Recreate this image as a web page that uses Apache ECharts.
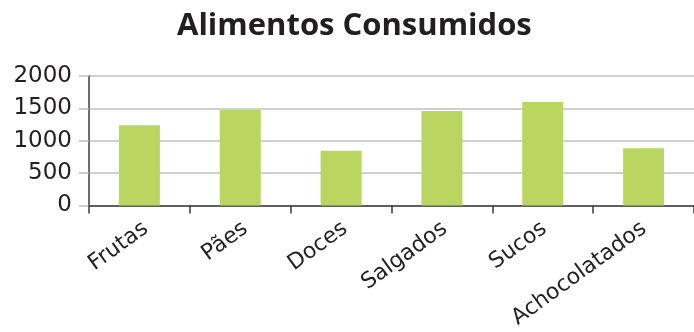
<!DOCTYPE html>
<html>
<head>
<meta charset="utf-8">
<script src="https://cdn.jsdelivr.net/npm/echarts@6/dist/echarts.min.js"></script>
<style>
  html, body { margin: 0; padding: 0; background: #fff; }
  #chart { width: 694px; height: 332px; }
</style>
</head>
<body>
<div id="chart"></div>
<script>
// Consumption per food group
const titleText = 'Alimentos Consumidos';
const categories = ['Frutas', 'Pães', 'Doces', 'Salgados', 'Sucos', 'Achocolatados'];
const consumed = [1240, 1475, 845, 1460, 1600, 885];
const yTicks = { min: 0, max: 2000, interval: 500 };

const chart = echarts.init(document.getElementById('chart'), null, { renderer: 'canvas' });

const axisDark = '#3a3a3a';
const gridGray = '#c0c0c5';
const labelFont = 'DejaVu Sans';

chart.setOption({
  animation: false,
  backgroundColor: '#ffffff',
  title: {
    text: titleText,
    left: 177,
    top: 11,
    padding: 0,
    textStyle: {
      fontFamily: 'Open Sans',
      fontWeight: 'bold',
      fontSize: 31,
      color: '#231f20'
    }
  },
  grid: [
    { left: 89, right: -7, top: 76, bottom: 126.5, containLabel: false },
    // label row, shifted slightly right of the bars
    { left: 96, right: -14, top: 76, bottom: 126.5, containLabel: false }
  ],
  xAxis: [
    {
      type: 'category',
      gridIndex: 0,
      data: categories,
      axisLine: { lineStyle: { color: axisDark, width: 1.5 } },
      axisTick: { show: true, interval: 0, length: 8, lineStyle: { color: axisDark, width: 1.5 } },
      axisLabel: { show: false, interval: 0 }
    },
    {
      type: 'category',
      gridIndex: 1,
      data: categories,
      axisLine: { show: false },
      axisTick: { show: false },
      axisLabel: {
        interval: 0,
        rotate: 36,
        margin: 21,
        fontFamily: labelFont,
        fontSize: 22,
        color: '#231f20'
      }
    }
  ],
  yAxis: [
    {
      type: 'value',
      gridIndex: 0,
      min: yTicks.min,
      max: yTicks.max,
      interval: yTicks.interval,
      axisLine: { show: true, lineStyle: { color: axisDark, width: 1.5 } },
      axisTick: { show: true, length: 10, lineStyle: { color: gridGray, width: 1.5 } },
      splitLine: { lineStyle: { color: gridGray, width: 1.5 } },
      axisLabel: {
        margin: 17,
        fontFamily: labelFont,
        fontSize: 23,
        color: '#231f20',
        formatter: (v) => String(v)
      }
    },
    { type: 'value', gridIndex: 1, show: false, min: yTicks.min, max: yTicks.max }
  ],
  series: [
    {
      type: 'bar',
      xAxisIndex: 0,
      yAxisIndex: 0,
      data: consumed,
      barWidth: 41,
      itemStyle: { color: '#b9d661' }
    }
  ]
});
</script>
</body>
</html>
